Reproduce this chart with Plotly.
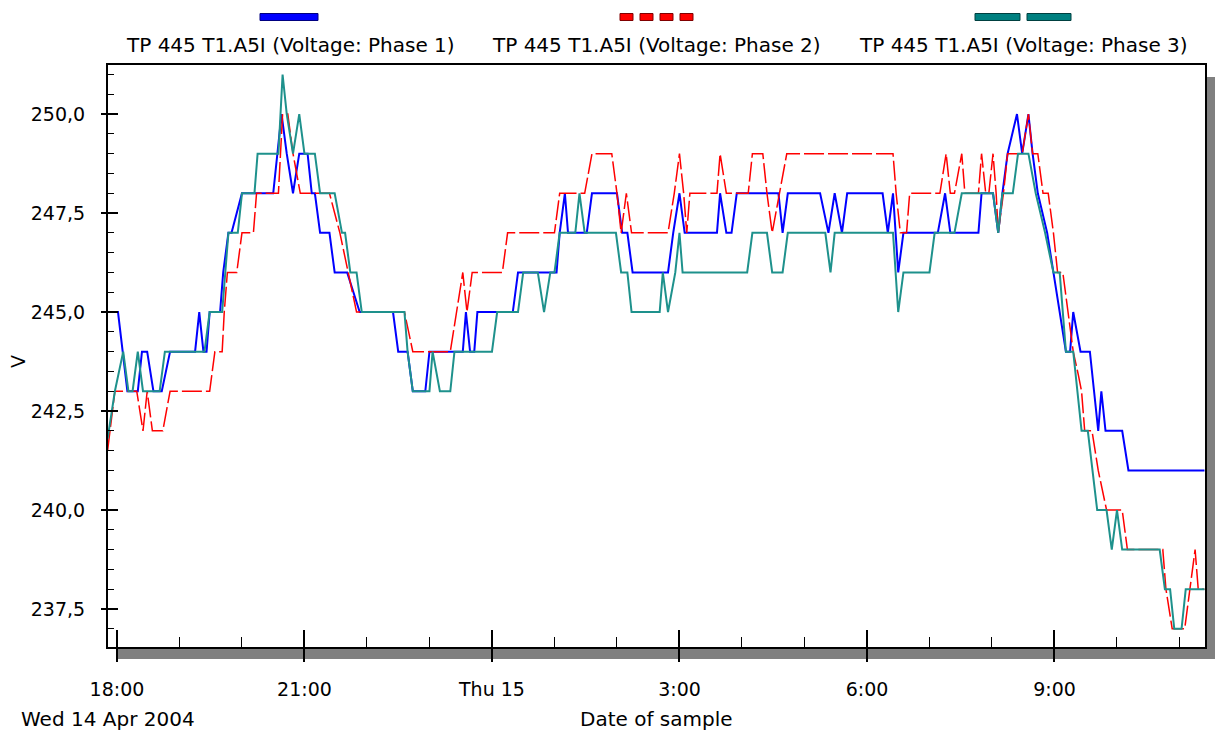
import pandas as pd
import plotly.graph_objects as go

# ---------------- data (minutes after Wed 14 Apr 2004 18:00, volts) ----------------
phase1_minutes = [-9, 1, 10, 20, 24, 29, 35, 43, 51, 75, 79, 83, 86, 89, 99, 102, 107, 110, 120,
                  150, 158, 163, 169, 175, 183, 187, 190, 195, 204, 209, 221, 233, 265, 270, 279,
                  284, 296, 300, 332, 335, 339, 343, 346, 380, 385, 422, 425, 430, 433, 451, 456,
                  480, 485, 490, 495, 529, 534, 540, 545, 576, 579, 585, 590, 595, 635, 639, 644,
                  675, 683, 689, 696, 701, 735, 740, 745, 750, 755, 788, 795, 800, 827, 830, 841,
                  846, 850, 855, 864, 869, 875, 879, 884, 893, 899, 905, 911, 915, 918, 925, 934,
                  938, 942, 945, 949, 965, 971, 1044]
phase1_volts = [245, 245, 243, 243, 244, 244, 243, 243, 244, 244, 245, 244, 244, 245, 245, 246, 247,
                247, 248, 248, 250, 249, 248, 249, 249, 248, 248, 247, 247, 246, 246, 245, 245, 244,
                244, 243, 243, 244, 244, 245, 244, 244, 245, 245, 246, 246, 247, 248, 247, 247, 248,
                248, 247, 247, 246, 246, 247, 248, 247, 247, 248, 247, 247, 248, 248, 247, 248, 248,
                247, 248, 247, 248, 248, 247, 248, 246, 247, 247, 248, 247, 247, 248, 248, 247, 248,
                249, 250, 249, 250, 249, 248, 247, 246, 245, 244, 244, 245, 244, 244, 243, 242, 243,
                242, 242, 241, 241]

phase2_minutes = [-9, -2, 19, 25, 29, 34, 44, 51, 89, 94, 101, 103, 106, 115, 120, 131, 134, 155,
                  159, 164, 169, 176, 204, 214, 222, 230, 276, 284, 320, 326, 332, 336, 341, 370,
                  375, 420, 425, 449, 456, 475, 480, 484, 489, 494, 529, 535, 540, 544, 547, 550,
                  576, 579, 585, 606, 610, 620, 624, 629, 636, 643, 745, 748, 752, 758, 761, 790,
                  796, 800, 804, 811, 814, 827, 830, 834, 837, 841, 844, 846, 851, 855, 869, 875,
                  879, 884, 889, 894, 899, 903, 908, 913, 918, 923, 926, 929, 936, 942, 950, 965,
                  970, 1004, 1007, 1013, 1025, 1030, 1035, 1038, 1044]
phase2_volts = [241.5, 243, 243, 242, 243, 242, 242, 243, 243, 244, 244, 245, 246, 246, 247, 247,
                248, 248, 250, 250, 249, 248, 248, 247, 246, 245, 245, 244, 244, 245, 246, 245, 246,
                246, 247, 247, 248, 248, 249, 249, 248, 247, 248, 247, 247, 248, 249, 248, 247, 248,
                248, 249, 248, 248, 249, 249, 248, 247, 248, 249, 249, 248, 247, 247, 248, 248, 249,
                248, 248, 249, 248, 248, 249, 248, 248, 249, 248, 247, 248, 249, 249, 250, 249, 249,
                248, 248, 247, 246, 246, 245, 244, 243.4, 243, 242, 242, 241, 240, 240, 239, 239,
                238, 237, 237, 238, 239, 238, 238]

phase3_minutes = [-9, -2, 6, 11, 15, 20, 25, 41, 46, 84, 89, 101, 104, 107, 116, 120, 132, 135, 155,
                  159, 163, 169, 175, 180, 190, 195, 209, 216, 219, 224, 230, 235, 276, 279, 284,
                  300, 303, 310, 320, 324, 360, 365, 385, 390, 404, 410, 416, 420, 425, 440, 444,
                  449, 479, 484, 490, 494, 521, 524, 529, 536, 540, 543, 605, 610, 624, 629, 639,
                  644, 680, 685, 689, 745, 750, 755, 780, 785, 804, 811, 841, 846, 850, 860, 865,
                  875, 882, 891, 899, 905, 911, 918, 926, 932, 941, 950, 955, 960, 965, 1001, 1006,
                  1011, 1015, 1022, 1026, 1044]
phase3_volts = [241.8, 243, 244, 243, 243, 244, 243, 243, 244, 244, 245, 245, 246, 247, 247, 248,
                248, 249, 249, 251, 250, 249, 250, 249, 249, 248, 248, 247, 247, 246, 246, 245, 245,
                244, 243, 243, 244, 243, 243, 244, 244, 245, 245, 246, 246, 245, 246, 246, 247, 247,
                248, 247, 247, 246, 246, 245, 245, 246, 245, 246, 247, 246, 246, 247, 247, 246, 246,
                247, 247, 246, 247, 247, 245, 246, 246, 247, 247, 248, 248, 247, 248, 248, 249, 249,
                248, 247, 246, 246, 244, 244, 242, 242, 240, 240, 239, 240, 239, 239, 238, 238, 237,
                237, 238, 238]

series_names = ["TP 445 T1.A5I (Voltage: Phase 1)",
                "TP 445 T1.A5I (Voltage: Phase 2)",
                "TP 445 T1.A5I (Voltage: Phase 3)"]
series_colors = ["#0000FF", "#FF0000", "#1E918C"]

tick_hours = [0, 3, 6, 9, 12, 15]
tick_labels = ["18:00", "21:00", "Thu 15", "3:00", "6:00", "9:00"]
y_ticks = [237.5, 240.0, 242.5, 245.0, 247.5, 250.0]
y_range = [236.54, 251.24]
x_range_minutes = [-8.6, 1044.5]

base = pd.Timestamp("2004-04-14 18:00")


def times(mins):
    return [base + pd.Timedelta(minutes=m) for m in mins]


x_range = times(x_range_minutes)
x_tickvals = [base + pd.Timedelta(hours=h) for h in tick_hours]

# ---------------- figure ----------------
W, H = 1231, 731
L, R, T, B = 108, 1205, 65, 647
FONT = "DejaVu Sans"
FS = 19
FS_TEXT = 20


def px(x):
    return (x - L) / (R - L)


def py(y):
    return (B - y) / (B - T)


fig = go.Figure()
fig.add_trace(go.Scatter(x=times(phase1_minutes), y=phase1_volts, mode="lines",
                         name=series_names[0], line=dict(color=series_colors[0], width=2)))
fig.add_trace(go.Scatter(x=times(phase2_minutes), y=phase2_volts, mode="lines",
                         name=series_names[1],
                         line=dict(color=series_colors[1], width=1.5, dash="20px,4px")))
fig.add_trace(go.Scatter(x=times(phase3_minutes), y=phase3_volts, mode="lines",
                         name=series_names[2], line=dict(color=series_colors[2], width=2)))
# carrier for the secondary (tick-only) axes
fig.add_trace(go.Scatter(x=[], y=[], xaxis="x2", yaxis="y2", showlegend=False, hoverinfo="skip"))

tickfont = dict(family=FONT, size=FS, color="black")

fig.update_layout(
    width=W, height=H, autosize=False,
    margin=dict(l=L, r=W - R, t=T, b=H - B, pad=0),
    paper_bgcolor="white", plot_bgcolor="white",
    separators=",.",
    showlegend=False,
    font=dict(family=FONT, size=FS, color="black"),
    xaxis=dict(type="date", range=x_range, tickmode="array", tickvals=x_tickvals,
               ticktext=tick_labels, ticks="inside", ticklen=17, tickwidth=1.5,
               tickcolor="black",
               minor=dict(ticks="inside", ticklen=10, tickwidth=1.2, tickcolor="black",
                          tickmode="linear", tick0=base.strftime("%Y-%m-%d %H:%M"),
                          dtick=3600000, showgrid=False),
               showline=True, mirror=True, linecolor="black", linewidth=1.5,
               showgrid=False, zeroline=False, tickfont=tickfont,
               ticklabelstandoff=24),
    xaxis2=dict(type="date", range=x_range, overlaying="x", anchor="y", side="bottom",
                tickmode="array", tickvals=x_tickvals, ticks="outside", ticklen=14,
                tickwidth=1.5, tickcolor="black", showticklabels=False, showline=False,
                showgrid=False, zeroline=False),
    yaxis=dict(range=y_range, tickmode="array", tickvals=y_ticks, ticks="inside", ticklen=10,
               tickwidth=1.5, tickcolor="black",
               minor=dict(ticks="inside", ticklen=6, tickwidth=1.2, tickcolor="black",
                          tickmode="linear", tick0=250, dtick=0.5, showgrid=False),
               showticklabels=False, showline=True, mirror=True, linecolor="black",
               linewidth=1.5, showgrid=False, zeroline=False),
    yaxis2=dict(range=y_range, overlaying="y", anchor="x", side="left", tickmode="array",
                tickvals=y_ticks, tickformat=".1f", ticks="outside", ticklen=6, tickwidth=1.5,
                tickcolor="black", showline=False, showgrid=False, zeroline=False,
                tickfont=tickfont, ticklabelstandoff=12),
)

shapes = []
# drop shadow of the plot frame
shadow = "#808080"
shapes.append(dict(type="rect", xref="paper", yref="paper", layer="below",
                   x0=px(117), x1=px(1215), y0=py(659), y1=py(647),
                   fillcolor=shadow, line=dict(width=0)))
shapes.append(dict(type="rect", xref="paper", yref="paper", layer="below",
                   x0=px(1205), x1=px(1215), y0=py(659), y1=py(77),
                   fillcolor=shadow, line=dict(width=0)))

# legend swatches above the legend texts
swatch_y0, swatch_y1 = py(20.5), py(13.5)
swatches = [
    (series_colors[0], "#000080", [(260, 318)]),
    (series_colors[1], "#800000", [(620, 633), (640, 653), (660, 673), (680, 693)]),
    ("#008080", "#004040", [(975, 1020), (1027, 1071)]),
]
for fill, edge, segs in swatches:
    for a, b in segs:
        shapes.append(dict(type="rect", xref="paper", yref="paper",
                           x0=px(a), x1=px(b), y0=swatch_y0, y1=swatch_y1,
                           fillcolor=fill, line=dict(color=edge, width=1)))
fig.update_layout(shapes=shapes)

annotations = []
for name, cx in zip(series_names, [290, 656, 1023]):
    annotations.append(dict(text=name, xref="paper", yref="paper", x=px(cx), y=py(45),
                            xanchor="center", yanchor="middle", showarrow=False,
                            font=dict(family=FONT, size=FS_TEXT, color="black")))
annotations.append(dict(text="V", xref="paper", yref="paper", x=px(18), y=py(362),
                        xanchor="center", yanchor="middle", textangle=-90, showarrow=False,
                        font=dict(family=FONT, size=FS, color="black")))
annotations.append(dict(text="Wed 14 Apr 2004", xref="paper", yref="paper", x=px(108),
                        y=py(719), xanchor="center", yanchor="middle", showarrow=False,
                        font=dict(family=FONT, size=FS_TEXT, color="black")))
annotations.append(dict(text="Date of sample", xref="paper", yref="paper", x=px(656),
                        y=py(719), xanchor="center", yanchor="middle", showarrow=False,
                        font=dict(family=FONT, size=FS_TEXT, color="black")))
fig.update_layout(annotations=annotations)

fig.write_html("out.html", config={"displayModeBar": False},
               post_script="document.body.style.margin='0';document.body.style.padding='0';")
